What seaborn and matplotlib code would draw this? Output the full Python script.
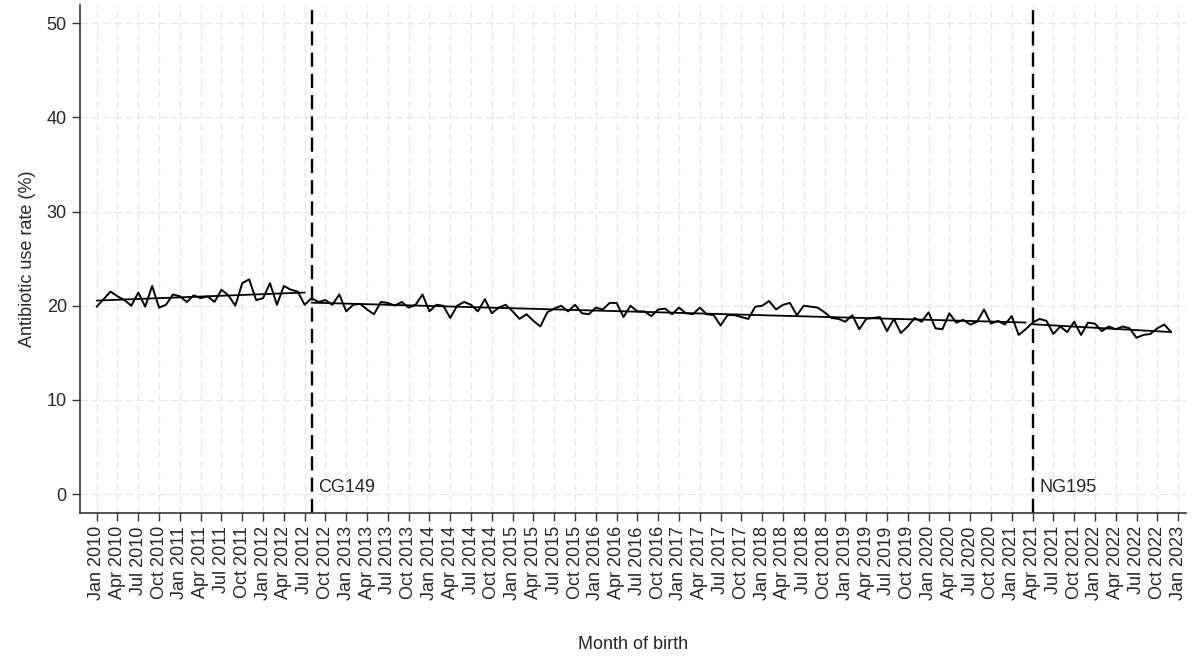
import numpy as np
import pandas as pd
import seaborn as sns
from matplotlib import pyplot as plt

# monthly antibiotic use rate (%) by month of birth, Jan 2010 - Dec 2022
rate = [19.9, 20.7, 21.5, 21.0, 20.6, 20.0, 21.4, 19.9, 22.1, 19.8, 20.1, 21.2,
        21.0, 20.4, 21.1, 20.8, 21.0, 20.4, 21.7, 21.1, 20.0, 22.4, 22.8, 20.6,
        20.8, 22.4, 20.1, 22.1, 21.7, 21.5, 20.1, 20.8, 20.4, 20.6, 20.1, 21.2,
        19.4, 20.1, 20.2, 19.6, 19.1, 20.4, 20.3, 20.0, 20.4, 19.8, 20.1, 21.2,
        19.4, 20.1, 20.0, 18.7, 20.0, 20.4, 20.1, 19.4, 20.7, 19.2, 19.8, 20.1,
        19.4, 18.6, 19.1, 18.4, 17.8, 19.3, 19.7, 20.0, 19.4, 20.1, 19.2, 19.1,
        19.8, 19.6, 20.3, 20.3, 18.8, 20.0, 19.4, 19.4, 18.9, 19.6, 19.7, 19.1,
        19.8, 19.2, 19.1, 19.8, 19.1, 19.0, 17.9, 19.0, 19.0, 18.8, 18.6, 19.9,
        20.0, 20.5, 19.6, 20.1, 20.3, 19.0, 20.0, 19.9, 19.8, 19.3, 18.7, 18.6,
        18.3, 19.0, 17.5, 18.6, 18.7, 18.8, 17.3, 18.6, 17.1, 17.8, 18.7, 18.3,
        19.3, 17.6, 17.5, 19.2, 18.2, 18.5, 18.0, 18.3, 19.6, 18.1, 18.4, 18.0,
        18.9, 16.9, 17.5, 18.2, 18.6, 18.4, 17.0, 17.8, 17.2, 18.3, 16.9, 18.2,
        18.1, 17.3, 17.8, 17.5, 17.8, 17.6, 16.6, 16.9, 17.0, 17.6, 18.0, 17.2]

months = pd.date_range('2010-01-01', periods=len(rate), freq='MS')
# guideline publication months
events = ['CG149', 'NG195']
event_dates = ['2012-08-01', '2021-04-01']

df = pd.DataFrame({'month': months, 'rate': rate})
df['t'] = np.arange(len(df))
event_idx = [int(np.where(months == pd.Timestamp(d))[0][0]) for d in event_dates]

# segmented trend (separate linear fit per period)
breaks = [0] + event_idx + [len(df)]
df['segment'] = 0
df['trend'] = np.nan
for i in range(len(breaks) - 1):
    seg = df.iloc[breaks[i]:breaks[i + 1]]
    b = np.polyfit(seg.t, seg.rate, 1)
    df.loc[seg.index, 'trend'] = np.polyval(b, seg.t)
    df.loc[seg.index, 'segment'] = i

sns.set_style('white')
plt.rcParams['font.family'] = ['Liberation Sans', 'DejaVu Sans']

fig = plt.figure(figsize=(12, 6.61), dpi=100)
ax = fig.add_axes([0.0667, 0.224, 0.922, 0.768])

sns.lineplot(data=df, x='t', y='rate', color='black', linewidth=1.4, ax=ax)
for i in range(len(breaks) - 1):
    sns.lineplot(data=df[df.segment == i], x='t', y='trend', color='black',
                 linewidth=1.3, ax=ax)

for name, idx in zip(events, event_idx):
    ax.axvline(idx, color='black', linestyle=(0, (6, 3)), linewidth=1.7)
    ax.text(idx + 1, 0.7, name, fontsize=13, va='center', ha='left')

# ticks every 3 months through Jan 2023
tick_months = pd.date_range('2010-01-01', '2023-01-01', freq='3MS')
tick_pos = np.arange(0, len(tick_months) * 3, 3)
ax.set_xticks(tick_pos)
ax.set_xticklabels([d.strftime('%b %Y') for d in tick_months], rotation=90, fontsize=13)
ax.set_yticks([0, 10, 20, 30, 40, 50])
ax.tick_params(axis='y', labelsize=13)
ax.tick_params(axis='both', direction='out', length=6, width=1, color='#333333', left=True, bottom=True)

ax.set_xlim(-2.4, 157.2)
ax.set_ylim(-2.0, 51.9)
ax.grid(True, color='#e6e6e6', linestyle=(0, (6, 3)), linewidth=0.9)
ax.set_axisbelow(True)
for s in ['top', 'right']:
    ax.spines[s].set_visible(False)
for s in ['left', 'bottom']:
    ax.spines[s].set_color('#333333')
    ax.spines[s].set_linewidth(1.2)

ax.set_xlabel('Month of birth', fontsize=13, labelpad=26)
ax.set_ylabel('Antibiotic use rate (%)', fontsize=13, labelpad=8)

plt.savefig('out.png', dpi=100)
